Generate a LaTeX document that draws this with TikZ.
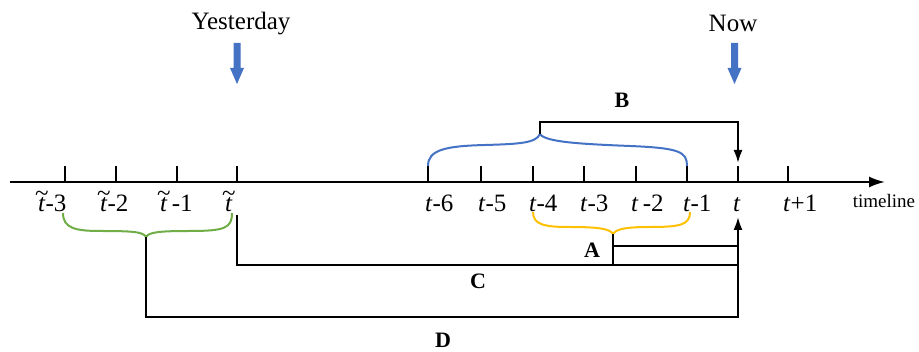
\documentclass[tikz,border=0pt]{standalone}
\usepackage{fontspec}
\setmainfont{Liberation Serif}
\usetikzlibrary{arrows.meta}
\definecolor{bblue}{RGB}{68,114,196}
\definecolor{bgreen}{RGB}{112,173,71}
\definecolor{byellow}{RGB}{255,192,0}
\newcommand\tlt{\leavevmode\hbox{\ooalign{\textit{t}\cr\hidewidth\raisebox{0.42em}{\~{}}\hidewidth\cr}}}
\begin{document}
\begin{tikzpicture}[x=1pt,y=-1pt,
  axisline/.style={line width=2pt},
  tickmark/.style={line width=2pt},
  conn/.style={line width=2pt},
  brace/.style={line width=2pt},
  ticklabel/.style={anchor=base west, inner sep=0pt, font=\fontsize{25}{30}\selectfont},
  toplabel/.style={anchor=base, inner sep=0pt, font=\fontsize{25}{30}\selectfont},
  letter/.style={inner sep=0pt, font=\fontsize{22}{26}\selectfont\bfseries},
  blockarrow/.style={fill=bblue, draw=none},
  tipd/.style={-{Latex[length=13pt,width=9pt]}}
]
\useasboundingbox (0,0) rectangle (919,352);

% axis
\coordinate (axs) at (10,182);
\coordinate (axe) at (885,182);
\draw[axisline, -{Latex[length=16pt,width=11pt]}] (axs) -- (axe);
\node[anchor=base, inner sep=0pt, font=\fontsize{19}{22}\selectfont] (tl) at (884,208) {timeline};

% ticks
\foreach \n/\x in {y3/65, y2/116, y1/177, y0/237, m6/428, m5/481, m4/533, m3/584, m2/636, m1/687, t0/738, p1/788}{
  \coordinate (b\n) at (\x,182);
  \coordinate (k\n) at (\x,166);
  \draw[tickmark] (b\n) -- (k\n);
}

% tick labels
\node[ticklabel] (ly3) at (38,212) {\tlt-3};
\node[ticklabel] (ly2) at (100,212) {\tlt-2};
\node[ticklabel] (ly1) at (160,212) {\tlt\,-1};
\node[ticklabel] (ly0) at (225,212) {\tlt};
\node[ticklabel] (lm6) at (425,212) {\textit{t}-6};
\node[ticklabel] (lm5) at (478,212) {\textit{t}-5};
\node[ticklabel] (lm4) at (529,212) {\textit{t}-4};
\node[ticklabel] (lm3) at (580,212) {\textit{t}-3};
\node[ticklabel] (lm2) at (631,212) {\textit{t}\,-2};
\node[ticklabel] (lm1) at (683,212) {\textit{t}-1};
\node[ticklabel] (lt0) at (733,212) {\textit{t}};
\node[ticklabel] (lp1) at (783,212) {\textit{t}+1};

% top labels and block arrows
\node[toplabel] (yest) at (241,30) {Yesterday};
\node[toplabel] (now) at (733,32) {Now};
\fill[blockarrow] (233.5,43) -- (240.5,43) -- (240.5,68) -- (244,68) -- (237,84) -- (230,68) -- (233.5,68) -- cycle;
\fill[blockarrow] (731,43) -- (738,43) -- (738,68) -- (741.5,68) -- (734.5,84) -- (727.5,68) -- (731,68) -- cycle;

% blue brace (t-6 .. t-1)
\coordinate (pb) at (540,134);
\draw[brace, bblue] (km6) .. controls (428,150) and (445,146) .. (485,145)
  .. controls (520,144) and (536,143) .. (pb)
  .. controls (545,142) and (580,144) .. (630,146)
  .. controls (680,148) and (687,152) .. (km1);

% yellow brace (t-4 .. t-1)
\coordinate (ya) at (533,212);
\coordinate (yb) at (690,212);
\coordinate (pa) at (613,234);
\draw[brace, byellow] (ya) .. controls (533,225) and (545,227) .. (570,227)
  .. controls (600,227) and (610,229) .. (pa)
  .. controls (616,229) and (626,227) .. (650,227)
  .. controls (680,227) and (690,225) .. (yb);

% green brace (~t-3 .. ~t)
\coordinate (ga) at (63,213);
\coordinate (gb) at (232,213);
\coordinate (pd) at (146,237);
\draw[brace, bgreen] (ga) .. controls (63,228) and (75,231) .. (100,231)
  .. controls (135,231) and (143,232) .. (pd)
  .. controls (149,232) and (160,231) .. (190,231)
  .. controls (225,231) and (232,228) .. (gb);

% connector B
\coordinate (btip) at (738,163);
\draw[conn, tipd] (pb) -- (540,122) -- (738,122) -- (btip);
\node[letter] (B) at (622,100) {B};

% connectors A, C, D
\coordinate (ctop) at (237,215);
\coordinate (utip) at (738,217);
\draw[conn] (pa) -- (613,265);
\draw[conn] (613,246) -- (738,246);
\draw[conn] (ctop) -- (237,265) -- (738,265);
\draw[conn, tipd] (pd) -- (146,317) -- (738,317) -- (utip);
\node[letter] (A) at (592,250) {A};
\node[letter] (C) at (478,281) {C};
\node[letter] (D) at (443,340) {D};
\end{tikzpicture}
\end{document}
